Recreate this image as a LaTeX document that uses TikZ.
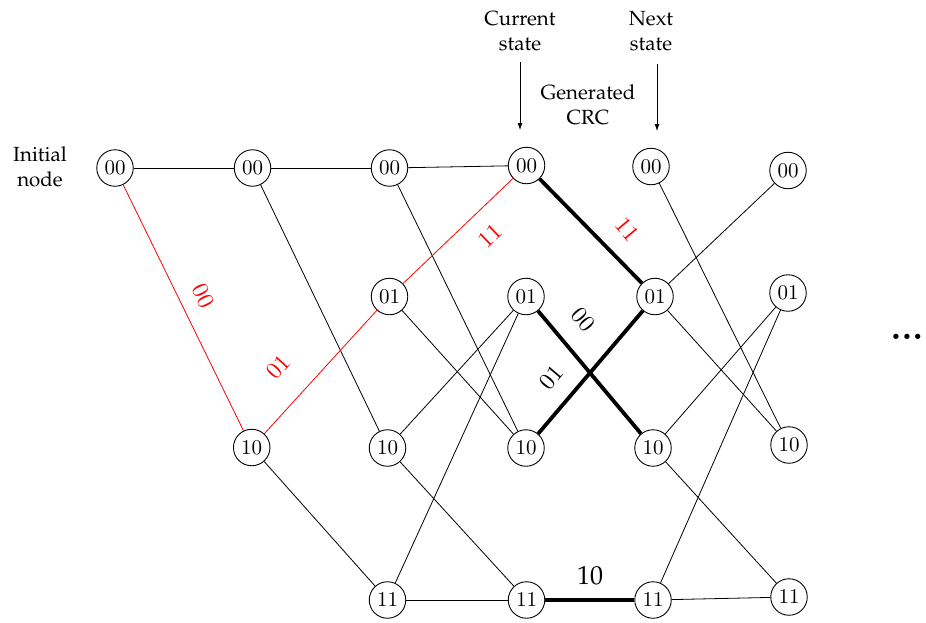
\documentclass[tikz,border=0pt]{standalone}
\usepackage[T1,TU]{fontenc}
\usetikzlibrary{arrows.meta}

% Palatino (Type 1) for the captions and the bottom weight
\newcommand\palsize[2]{\fontsize{#1}{#2}\usefont{T1}{ppl}{m}{n}}
% Computer Modern at its 10pt design, scaled up, for states and branch labels
\font\statefont=cmr10 at 21pt
\font\branchfont=cmr10 at 23.5pt
\font\dotsfont=cmbx10 at 34pt

\tikzset{
  state/.style={circle, draw, line width=0.9pt, minimum size=36.5pt,
    inner sep=0pt, font=\statefont},
  link/.style={line width=0.8pt},
  redlink/.style={line width=0.8pt, red},
  boldlink/.style={line width=3.8pt},
  redlabel/.style={red, inner sep=0pt, font=\branchfont},
  blacklabel/.style={inner sep=0pt, font=\branchfont},
  caption/.style={align=center, inner sep=0pt, font=\palsize{20.5}{24.5}},
  weight/.style={inner sep=0pt, font=\palsize{26}{26}},
  pointer/.style={line width=0.8pt, -{Latex[length=7pt,width=5pt]}},
}

\begin{document}
\begin{tikzpicture}[x=1pt, y=-1pt]
\useasboundingbox (0,0) rectangle (926,622);

% trellis states, one column per time step
\node[state] (a00) at (115,168)     {00};
\node[state] (b00) at (252.5,168)   {00};
\node[state] (b10) at (251.7,447.5) {10};
\node[state] (c00) at (389.5,168)   {00};
\node[state] (c01) at (389.5,296.5) {01};
\node[state] (c10) at (387.5,448)   {10};
\node[state] (c11) at (387.5,600)   {11};
\node[state] (d00) at (526.5,165.5) {00};
\node[state] (d01) at (526,296.5)   {01};
\node[state] (d10) at (526,448)     {10};
\node[state] (d11) at (526.5,600)   {11};
\node[state] (e00) at (651,166.5)   {00};
\node[state] (e01) at (655,296.5)   {01};
\node[state] (e10) at (653,448)     {10};
\node[state] (e11) at (653,600)     {11};
\node[state] (f00) at (788,170.5)   {00};
\node[state] (f01) at (788,293)     {01};
\node[state] (f10) at (789,445)     {10};
\node[state] (f11) at (789,597)     {11};

% ordinary transitions
\draw[link] (a00) -- (b00);
\draw[link] (b00) -- (c00);
\draw[link] (b00) -- (c10);
\draw[link] (b10) -- (c11);
\draw[link] (c00) -- (d00);
\draw[link] (c00) -- (d10);
\draw[link] (c01) -- (d10);
\draw[link] (c10) -- (d01);
\draw[link] (c10) -- (d11);
\draw[link] (c11) -- (d01);
\draw[link] (c11) -- (d11);
\draw[link] (e00) -- (f10);
\draw[link] (e01) -- (f00);
\draw[link] (e01) -- (f10);
\draw[link] (e10) -- (f01);
\draw[link] (e10) -- (f11);
\draw[link] (e11) -- (f01);
\draw[link] (e11) -- (f11);

% path from the initial node
\draw[redlink] (a00) -- (b10);
\draw[redlink] (b10) -- (c01);
\draw[redlink] (c01) -- (d00);

% transitions of the current step
\draw[boldlink] (d00) -- (e01);
\draw[boldlink] (d01) -- (e10);
\draw[boldlink] (d10) -- (e01);
\draw[boldlink] (d11) -- (e11);

% branch labels
\node[redlabel, rotate=-63.9] (w1) at (203,296) {00};
\node[redlabel, rotate=47.6]  (w2) at (278,367) {01};
\node[redlabel, rotate=43.7]  (w3) at (490,236) {11};
\node[redlabel, rotate=-50]   (w4) at (627,230) {11};
\node[blacklabel, rotate=-50] (w5) at (583,320) {00};
\node[blacklabel, rotate=49.6] (w6) at (551,378) {01};
\node[weight] (w7) at (590,576) {10};

% captions and pointers
\node[caption] (init) at (40,167) {Initial\\node};
\node[caption] (cur)  at (520,31) {Current\\state};
\node[caption] (next) at (651,31) {Next\\state};
\node[caption] (crc)  at (588,105) {Generated\\CRC};

\coordinate (curtip)  at (520,130);
\coordinate (nexttip) at (657,131);
\draw[pointer, shorten <=11pt] (cur.south) -- (curtip);
\draw[pointer, shorten <=13pt] (next.south -| nexttip) -- (nexttip);

\node[inner sep=0pt, font=\dotsfont] (more) at (907,337) {...};
\end{tikzpicture}
\end{document}
